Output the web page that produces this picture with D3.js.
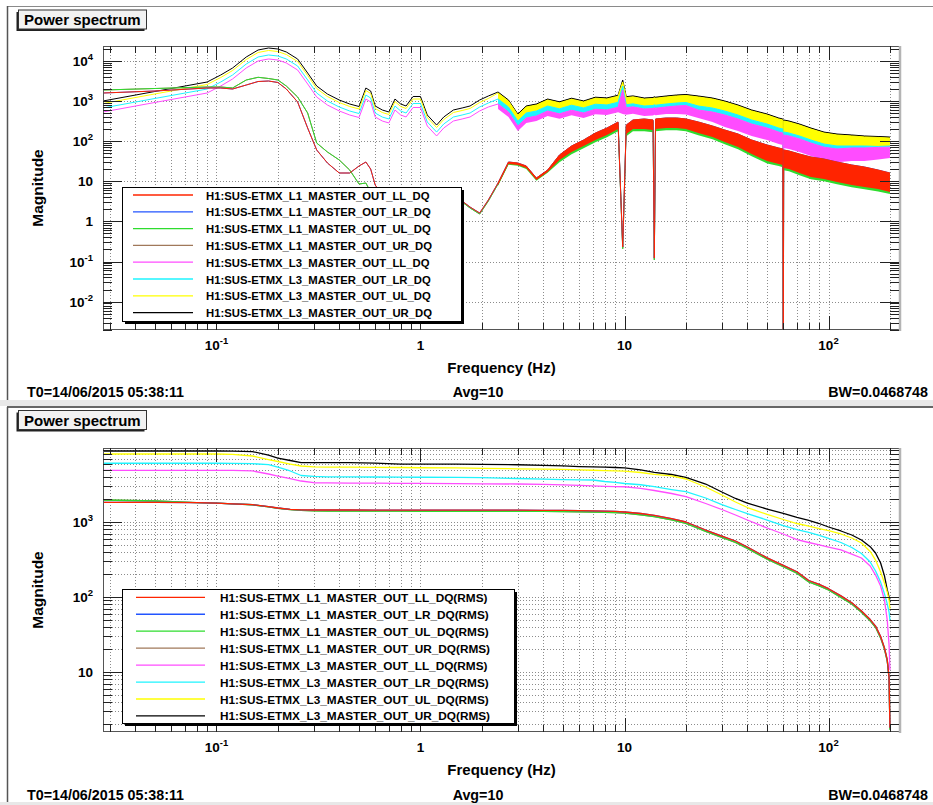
<!DOCTYPE html>
<html>
<head>
<meta charset="utf-8">
<script src="https://cdn.jsdelivr.net/npm/d3@7"></script>
<style>
body { margin: 0; background: #fff; }
svg { display: block; font-family: "Liberation Sans", Arial, Helvetica, sans-serif; font-weight: bold; }
</style>
</head>
<body>
<div id="chart"></div>
<script>
// channel names, in legend order
const channels = [
    "H1:SUS-ETMX_L1_MASTER_OUT_LL_DQ",
    "H1:SUS-ETMX_L1_MASTER_OUT_LR_DQ",
    "H1:SUS-ETMX_L1_MASTER_OUT_UL_DQ",
    "H1:SUS-ETMX_L1_MASTER_OUT_UR_DQ",
    "H1:SUS-ETMX_L3_MASTER_OUT_LL_DQ",
    "H1:SUS-ETMX_L3_MASTER_OUT_LR_DQ",
    "H1:SUS-ETMX_L3_MASTER_OUT_UL_DQ",
    "H1:SUS-ETMX_L3_MASTER_OUT_UR_DQ"
];
const colors = ["#ff2400", "#2255ff", "#2edc2e", "#a0785a", "#ff4cff", "#1ef4ff", "#ffff00", "#000000"];

const xDomain = [0.0278, 224];      // Hz
const yDomainTop = [1.96e-3, 2.366e4];
const yDomainBot = [1.585, 9700];
const bandFrom = 2.4;               // above this the spectra are drawn as noise bands

// ---- top panel: power spectrum (upper edge of each trace) ----
const freqTop = [0.0278, 0.05, 0.09, 0.105, 0.12, 0.14, 0.16, 0.18, 0.2, 0.22,
    0.25, 0.28, 0.31, 0.35, 0.4, 0.45, 0.5, 0.54, 0.57, 0.6,
    0.65, 0.7, 0.75, 0.8, 0.85, 0.92, 1.0, 1.08, 1.2, 1.3,
    1.45, 1.6, 1.75, 1.95, 2.15, 2.4, 2.7, 3.0, 3.3, 3.7,
    4.2, 4.8, 5.5, 6.3, 7.2, 8.2, 9.3, 9.8, 10.2, 11,
    12.5, 13.8, 14.0, 14.2, 16, 18, 20, 23, 27, 31,
    36, 42, 50, 57, 59.7, 60, 60.3, 64, 72, 82,
    95, 110, 130, 150, 175, 200];

const psdL1LL = [1592, 1785, 2123, 2123, 2003, 2520, 3080, 3170, 2910, 2003,
    949, 213, 60.3, 28.6, 16.1, 16.1, 24.1, 30.3, 20.2, 8.07,
    4.55, 3.41, 2.87, 2.56, 2.42, 2.42, 2.56, 2.71, 2.87, 3.05,
    3.22, 3.22, 2.28, 1.62, 3.41, 9.06, 30.3, 28.6, 24.1, 12.1,
    19.1, 45.3, 75.9, 107, 160, 213, 301, 0.23, 253, 338,
    358, 338, 0.122, 358, 379, 379, 358, 301, 239, 190,
    151, 107, 80.4, 67.6, 63.9, 0.0001, 60.3, 56.9, 47.9, 40.3,
    35.9, 30.3, 25.5, 22.7, 19.1, 16.1];
const psdL1LR = [1592, 1785, 2123, 2123, 2003, 2520, 3080, 3170, 2910, 2003,
    949, 213, 60.3, 28.6, 16.1, 16.1, 24.1, 30.3, 20.2, 8.07,
    4.55, 3.41, 2.87, 2.56, 2.42, 2.42, 2.56, 2.71, 2.87, 3.05,
    3.22, 3.22, 2.28, 1.62, 3.41, 9.06, 30.3, 28.6, 24.1, 12.1,
    19.1, 45.3, 75.9, 107, 160, 213, 301, 0.23, 253, 338,
    358, 338, 0.122, 358, 379, 379, 358, 301, 239, 190,
    151, 107, 80.4, 67.6, 63.9, 0.0001, 60.3, 56.9, 47.9, 40.3,
    35.9, 30.3, 25.5, 22.7, 19.1, 16.1];
const psdL1UL = [1890, 2060, 2246, 2246, 2123, 3360, 3922, 3660, 3360, 2380,
    1265, 505, 90.2, 53.8, 34, 19.1, 8.55, 9.06, 5.4, 4.05,
    3.41, 2.87, 2.56, 2.42, 2.28, 2.28, 2.42, 2.56, 2.71, 2.87,
    3.05, 3.05, 2.16, 1.53, 3.22, 8.55, 28.6, 27, 22.7, 11.4,
    18.1, 42, 70, 100, 150, 198, 280, 0.21, 235, 315,
    333, 315, 0.11, 333, 352, 352, 333, 280, 222, 177,
    140, 100, 75, 63, 59, 0.0001, 56, 53, 44.5, 37.5,
    33.4, 28.2, 23.7, 21.1, 17.8, 15];
const psdL1UR = [1890, 2060, 2246, 2246, 2123, 3360, 3922, 3660, 3360, 2380,
    1265, 505, 90.2, 53.8, 34, 19.1, 8.55, 9.06, 5.4, 4.05,
    3.41, 2.87, 2.56, 2.42, 2.28, 2.28, 2.42, 2.56, 2.71, 2.87,
    3.05, 3.05, 2.16, 1.53, 3.22, 8.55, 28.6, 27, 22.7, 11.4,
    18.1, 42, 70, 100, 150, 198, 280, 0.21, 235, 315,
    333, 315, 0.11, 333, 352, 352, 333, 280, 222, 177,
    140, 100, 75, 63, 59, 0.0001, 56, 53, 44.5, 37.5,
    33.4, 28.2, 23.7, 21.1, 17.8, 15];
const psdL3LL = [535, 926, 1591, 2383, 3559, 6693, 10000, 11230, 10590, 8938,
    5958, 2671, 1266, 798, 567, 450, 390, 1128, 950, 402,
    319, 285, 600, 450, 402, 693, 693, 239, 135, 213,
    319, 358, 402, 567, 713, 846, 535, 239, 379, 425,
    566, 482, 592, 507, 628, 602, 703, 1890, 686, 718,
    635, 654, 681, 665, 713, 755, 777, 599, 534, 450,
    358, 268, 213, 169, 160, 1.92, 143, 135, 114, 90,
    71, 64, 68, 68, 70, 71];
const psdL3LR = [673, 1164, 2000, 2997, 4476, 8416, 12580, 14120, 13310, 11240,
    7493, 3358, 1592, 1004, 712, 566, 490, 1418, 1194, 505,
    401, 358, 754, 566, 505, 872, 872, 301, 169, 268,
    401, 450, 505, 712, 896, 1128, 712, 318, 505, 566,
    754, 642, 790, 676, 836, 803, 937, 2380, 815, 853,
    755, 777, 809, 790, 847, 897, 923, 754, 672, 566,
    450, 338, 268, 213, 202, 4.06, 170, 160, 135, 107,
    85, 76, 76, 76, 74, 76];
const psdL3UL = [870, 1510, 2590, 3880, 5790, 10900, 16300, 18300, 17200, 14500,
    9700, 4350, 2060, 1300, 922, 733, 635, 1836, 1546, 654,
    520, 463, 976, 733, 654, 1128, 1128, 390, 219, 347,
    520, 583, 654, 922, 1160, 1593, 1006, 450, 713, 799,
    1065, 907, 1115, 954, 1181, 1134, 1323, 2994, 1219, 1276,
    1128, 1162, 1210, 1181, 1266, 1342, 1380, 1266, 1128, 951,
    756, 567, 450, 358, 338, 6.1, 319, 301, 254, 201,
    160, 143, 135, 128, 124, 120];
const psdL3UR = [1006, 1740, 2990, 4480, 6690, 12580, 18800, 21100, 19900, 16800,
    11200, 5020, 2380, 1500, 1065, 846, 733, 2120, 1785, 755,
    600, 535, 1127, 846, 755, 1303, 1303, 450, 253, 401,
    600, 673, 755, 1065, 1340, 1686, 1065, 476, 755, 846,
    1127, 960, 1180, 1010, 1250, 1200, 1400, 3360, 1290, 1350,
    1194, 1230, 1280, 1250, 1340, 1420, 1460, 1340, 1194, 1006,
    800, 600, 476, 379, 358, 10.8, 338, 319, 269, 213,
    169, 151, 143, 135, 131, 127];

// lower edge of the noise bands, from bandFrom (2.4 Hz) upward
const psdL1LLLow = [8.07, 27, 25.5, 21.5, 10.8, 17, 34, 53.7, 75.8, 107,
    142, 201, 0.23, 151, 201, 202, 190, 0.122, 202, 213,
    213, 202, 160, 127, 95, 72, 48, 32, 27, 25.5,
    0.0001, 21.5, 20.3, 16.1, 12.8, 11.4, 9.6, 8.1, 7.2, 6.4, 5.4];
const psdL1ULLow = [7.7, 25.7, 24.3, 20.4, 10.3, 16.3, 30, 47, 67, 94,
    125, 177, 0.21, 133, 177, 178, 167, 0.11, 178, 187,
    187, 178, 141, 112, 84, 63, 42, 28, 24, 22.4,
    0.0001, 18.9, 17.9, 14.2, 11.3, 10, 8.4, 7.1, 6.3, 5.6, 4.8];
const psdL3LLLow = [636, 401, 179, 285, 319, 425, 362, 445, 381, 471,
    452, 528, 480, 459, 481, 425, 438, 456, 445, 477,
    477, 463, 379, 301, 226, 180, 135, 107, 85, 81,
    1.92, 68, 64, 54, 43, 34, 30, 32, 32, 35, 38];

// ---- bottom panel: RMS ----
const freqBot = [0.0278, 0.05, 0.08, 0.1, 0.12, 0.15, 0.18, 0.2, 0.23, 0.26,
    0.3, 0.35, 0.45, 0.6, 0.8, 1, 1.5, 2, 3, 4,
    5, 6, 7, 8, 9, 10, 12, 14, 17, 20,
    25, 30, 35, 40, 50, 60, 70, 80, 90, 100,
    115, 130, 145, 160, 170, 180, 188, 194, 198, 200];

const rmsL1LL = [1830, 1825, 1810, 1780, 1750, 1700, 1600, 1537, 1476, 1455,
    1445, 1445, 1445, 1444, 1443, 1442, 1440, 1438, 1436, 1432,
    1428, 1420, 1410, 1400, 1385, 1360, 1298, 1228, 1113, 1000,
    782, 650, 558, 464, 333, 264, 217, 166, 147, 129,
    103.5, 84, 65, 50, 41, 29.7, 21, 14.5, 8.5, 1.8];
const rmsL1LR = [1830, 1825, 1810, 1780, 1750, 1700, 1600, 1537, 1476, 1455,
    1445, 1445, 1445, 1444, 1443, 1442, 1440, 1438, 1436, 1432,
    1428, 1420, 1410, 1400, 1385, 1360, 1298, 1228, 1113, 1000,
    782, 650, 558, 464, 333, 264, 217, 166, 147, 129,
    103.5, 84, 65, 50, 41, 29.7, 21, 14.5, 8.5, 1.8];
const rmsL1UL = [1965, 1905, 1815, 1780, 1748, 1698, 1590, 1525, 1460, 1432,
    1405, 1395, 1395, 1394, 1393, 1392, 1390, 1388, 1386, 1382,
    1378, 1370, 1360, 1350, 1335, 1310, 1250, 1180, 1070, 960,
    750, 625, 535, 445, 320, 253, 208, 159, 141, 124,
    99, 80.5, 62.5, 48, 39.4, 28.5, 20.2, 14, 8.2, 1.7];
const rmsL1UR = [1965, 1905, 1815, 1780, 1748, 1698, 1590, 1525, 1460, 1432,
    1405, 1395, 1395, 1394, 1393, 1392, 1390, 1388, 1386, 1382,
    1378, 1370, 1360, 1350, 1335, 1310, 1250, 1180, 1070, 960,
    750, 625, 535, 445, 320, 253, 208, 159, 141, 124,
    99, 80.5, 62.5, 48, 39.4, 28.5, 20.2, 14, 8.2, 1.7];
const rmsL3LL = [4890, 4890, 4890, 4890, 4890, 4800, 4365, 4100, 3800, 3520,
    3340, 3320, 3300, 3290, 3280, 3270, 3250, 3230, 3210, 3170,
    3120, 3070, 3030, 2990, 2960, 2950, 2800, 2630, 2400, 2180,
    1765, 1468, 1240, 1063, 832, 692, 584, 533, 494, 464,
    424, 374, 331, 259, 196, 140, 91, 49, 22.9, 10.6];
const rmsL3LR = [6070, 6070, 6070, 6070, 6050, 6000, 5840, 5410, 4790, 4170,
    4050, 4000, 3990, 3980, 3960, 3950, 3940, 3900, 3800, 3720,
    3680, 3650, 3630, 3470, 3370, 3260, 3140, 2955, 2710, 2540,
    2090, 1710, 1468, 1298, 1063, 898, 794, 725, 661, 603,
    533, 457, 380, 293, 222, 158, 110, 81, 63, 49];
const rmsL3UL = [8070, 8070, 8070, 8070, 8000, 7590, 6810, 6410, 5930, 5580,
    5450, 5400, 5380, 5350, 5330, 5290, 5260, 5200, 5120, 5080,
    5020, 4960, 4900, 4850, 4810, 4780, 4570, 4320, 4110, 3745,
    2930, 2290, 1850, 1560, 1260, 1080, 955, 884, 819, 770,
    692, 612, 525, 405, 311, 215, 154, 117, 92, 70];
const rmsL3UR = [8850, 8850, 8850, 8850, 8800, 8700, 7820, 7130, 6610, 6210,
    6180, 6180, 6180, 6100, 5930, 5920, 5900, 5880, 5800, 5700,
    5600, 5480, 5420, 5380, 5330, 5280, 4940, 4600, 4300, 3945,
    3210, 2510, 2060, 1790, 1490, 1300, 1150, 1050, 955, 858,
    759, 671, 575, 469, 386, 284, 191, 124, 100, 85];

const statusT0 = "T0=14/06/2015 05:38:11";
const statusAvg = "Avg=10";
const statusBW = "BW=0.0468748";

// ------------------------------------------------------------
const width = 933, height = 805;
const svg = d3.select("#chart").append("svg")
    .attr("width", width)
    .attr("height", height)
    .attr("viewBox", [0, 0, width, height]);

svg.append("rect").attr("width", width).attr("height", height).attr("fill", "#fff");

// pad frames
svg.append("line").attr("x1", 7).attr("x2", width).attr("y1", 6.5).attr("y2", 6.5).attr("stroke", "#8a8a8a");
svg.append("line").attr("x1", 7.5).attr("x2", 7.5).attr("y1", 6).attr("y2", 400).attr("stroke", "#555").attr("stroke-width", 1.5);
svg.append("rect").attr("x", 0).attr("y", 400).attr("width", width).attr("height", 6).attr("fill", "#e8e8e8");
svg.append("line").attr("x1", 7).attr("x2", width).attr("y1", 407).attr("y2", 407).attr("stroke", "#333").attr("stroke-width", 1.5);
svg.append("line").attr("x1", 7.5).attr("x2", 7.5).attr("y1", 407).attr("y2", 805).attr("stroke", "#555").attr("stroke-width", 1.5);
svg.append("rect").attr("x", 0).attr("y", 802).attr("width", width).attr("height", 3).attr("fill", "#e8e8e8");

function logTicks(domain) {
    const major = [], minor = [];
    const e0 = Math.floor(Math.log10(domain[0])), e1 = Math.ceil(Math.log10(domain[1]));
    for (let e = e0; e <= e1; e++) {
        for (let k = 1; k < 10; k++) {
            const v = k * Math.pow(10, e);
            if (v < domain[0] || v > domain[1]) continue;
            (k === 1 ? major : minor).push(v);
        }
    }
    return {major, minor};
}

function powLabel(sel, v) {
    const e = Math.round(Math.log10(v));
    if (e === 0) sel.text("1");
    else if (e === 1) sel.text("10");
    else {
        sel.append("tspan").text("10");
        sel.append("tspan").attr("dy", -6).attr("font-size", 9.5).text(e);
    }
}

function drawPanel(p) {
    const left = 103, right = 900;
    const x = d3.scaleLog().domain(xDomain).range([left, right]);
    const y = d3.scaleLog().domain(p.yDomain).range([p.bottom, p.top]);
    const g = svg.append("g");
    const xt = logTicks(xDomain), yt = logTicks(p.yDomain);

    // title box with shadow
    g.append("rect").attr("x", 16.5).attr("y", p.titleY + 2).attr("width", 128).attr("height", 19).attr("fill", "#222");
    g.append("rect").attr("x", 18.5).attr("y", p.titleY).attr("width", 128).attr("height", 19)
        .attr("fill", "#f2f2f2").attr("stroke", "#333");
    g.append("text").attr("x", 24).attr("y", p.titleY + 15).attr("font-size", 15).text("Power spectrum");

    // grid
    const grid = g.append("g").attr("stroke", "#8c8c8c").attr("stroke-dasharray", "1,2").attr("stroke-width", 1);
    grid.selectAll(".gx").data(xt.major.concat(xt.minor)).join("line")
        .attr("x1", d => Math.round(x(d)) + 0.5).attr("x2", d => Math.round(x(d)) + 0.5)
        .attr("y1", p.top).attr("y2", p.bottom);
    grid.selectAll(".gy").data(p.yMinorGrid ? yt.major.concat(yt.minor) : yt.major).join("line")
        .attr("x1", left).attr("x2", right)
        .attr("y1", d => Math.round(y(d)) + 0.5).attr("y2", d => Math.round(y(d)) + 0.5);

    // traces, last channel first so LL L1 ends on top
    const clipId = "clip" + p.top;
    g.append("clipPath").attr("id", clipId).append("rect")
        .attr("x", left).attr("y", p.top).attr("width", right - left).attr("height", p.bottom - p.top);
    const traces = g.append("g").attr("clip-path", `url(#${clipId})`);
    const bandIdx = p.freq.findIndex(f => f >= bandFrom);
    for (let c = p.series.length - 1; c >= 0; c--) {
        const vals = p.series[c];
        const low = p.bands ? p.bands[c] : null;
        if (low) {
            const idx = d3.range(bandIdx, p.freq.length);
            traces.append("path")
                .attr("fill", colors[c])
                .attr("d", d3.area()
                    .x(i => x(p.freq[i]))
                    .y0(i => y(low[i - bandIdx]))
                    .y1(i => y(vals[i]))(idx));
        }
        traces.append("path")
            .attr("fill", "none")
            .attr("stroke", colors[c])
            .attr("stroke-width", p.lineWidth)
            .attr("stroke-linejoin", "round")
            .attr("d", d3.line().x(i => x(p.freq[i])).y(i => y(vals[i]))(d3.range(p.freq.length)));
    }

    // frame
    g.append("rect").attr("x", left + 0.5).attr("y", p.top + 0.5)
        .attr("width", right - left - 1).attr("height", p.bottom - p.top - 1)
        .attr("fill", "none").attr("stroke", "#555");
    g.append("line").attr("x1", right).attr("x2", right).attr("y1", p.top).attr("y2", p.bottom + 1)
        .attr("stroke", "#b4b4b4").attr("stroke-width", 2.5);

    // ticks
    const ticks = g.append("g").attr("stroke", "#222").attr("stroke-width", 1);
    const xAll = xt.major.map(d => [d, 14]).concat(xt.minor.map(d => [d, 7]));
    ticks.selectAll(".tb").data(xAll).join("line")
        .attr("x1", d => Math.round(x(d[0])) + 0.5).attr("x2", d => Math.round(x(d[0])) + 0.5)
        .attr("y1", p.bottom).attr("y2", d => p.bottom - d[1]);
    ticks.selectAll(".tt").data(xAll).join("line")
        .attr("x1", d => Math.round(x(d[0])) + 0.5).attr("x2", d => Math.round(x(d[0])) + 0.5)
        .attr("y1", p.top).attr("y2", d => p.top + d[1]);
    const yAll = yt.major.map(d => [d, 19]).concat(yt.minor.map(d => [d, 9]));
    ticks.selectAll(".tl").data(yAll).join("line")
        .attr("y1", d => Math.round(y(d[0])) + 0.5).attr("y2", d => Math.round(y(d[0])) + 0.5)
        .attr("x1", left).attr("x2", d => left + d[1]);
    ticks.selectAll(".tr").data(yAll).join("line")
        .attr("y1", d => Math.round(y(d[0])) + 0.5).attr("y2", d => Math.round(y(d[0])) + 0.5)
        .attr("x1", right - 1).attr("x2", d => right - 1 - d[1]);

    // tick labels
    g.selectAll(".xl").data(xt.major).join("text")
        .attr("x", d => x(d)).attr("y", p.bottom + 20)
        .attr("text-anchor", "middle").attr("font-size", 13.5)
        .each(function (d) { powLabel(d3.select(this), d); });
    g.selectAll(".yl").data(yt.major).join("text")
        .attr("x", 93).attr("y", d => y(d) + 5)
        .attr("text-anchor", "end").attr("font-size", 13.5)
        .each(function (d) { powLabel(d3.select(this), d); });

    // axis titles
    g.append("text").attr("x", (left + right) / 2).attr("y", p.bottom + 43)
        .attr("text-anchor", "middle").attr("font-size", 15).text("Frequency (Hz)");
    g.append("text").attr("transform", `translate(43,${(p.top + p.bottom) / 2}) rotate(-90)`)
        .attr("text-anchor", "middle").attr("font-size", 15.5).text("Magnitude");

    // status line
    g.append("text").attr("x", 27).attr("y", p.statusY).attr("font-size", 14.3).text(statusT0);
    g.append("text").attr("x", 478).attr("y", p.statusY).attr("text-anchor", "middle").attr("font-size", 14.3).text(statusAvg);
    g.append("text").attr("x", 928).attr("y", p.statusY).attr("text-anchor", "end").attr("font-size", 14.3).text(statusBW);

    // legend
    const L = p.legend;
    g.append("rect").attr("x", L.x + 3).attr("y", L.y + 3).attr("width", L.w).attr("height", L.h).attr("fill", "#000");
    g.append("rect").attr("x", L.x + 0.5).attr("y", L.y + 0.5).attr("width", L.w).attr("height", L.h)
        .attr("fill", "#fff").attr("stroke", "#000");
    const rows = g.selectAll(".lg").data(channels).join("g")
        .attr("transform", (d, i) => `translate(0,${L.first + i * L.step})`);
    rows.append("line").attr("x1", L.lineX[0]).attr("x2", L.lineX[1])
        .attr("stroke", (d, i) => colors[i]).attr("stroke-width", 1.3);
    rows.append("text").attr("x", L.textX).attr("y", 4.5).attr("font-size", L.fontSize)
        .text(d => d + L.suffix);
}

const bandStart = freqTop.findIndex(f => f >= bandFrom);

drawPanel({
    top: 46, bottom: 330, yDomain: yDomainTop, yMinorGrid: false,
    titleY: 10, statusY: 397, lineWidth: 1,
    freq: freqTop,
    series: [psdL1LL, psdL1LR, psdL1UL, psdL1UR, psdL3LL, psdL3LR, psdL3UL, psdL3UR],
    // each L3 band reaches down to the next trace, which is painted over it
    bands: [psdL1LLLow, null, psdL1ULLow, null, psdL3LLLow,
        psdL3LL.slice(bandStart), psdL3LR.slice(bandStart), psdL3UL.slice(bandStart)],
    legend: {x: 122, y: 187, w: 339, h: 134, first: 195, step: 16.8,
        lineX: [133, 193], textX: 206, fontSize: 11.3, suffix: ""}
});

drawPanel({
    top: 448, bottom: 732, yDomain: yDomainBot, yMinorGrid: true,
    titleY: 410.5, statusY: 800, lineWidth: 1.3,
    freq: freqBot,
    series: [rmsL1LL, rmsL1LR, rmsL1UL, rmsL1UR, rmsL3LL, rmsL3LR, rmsL3UL, rmsL3UR],
    bands: null,
    legend: {x: 122, y: 589, w: 392, h: 134, first: 597.3, step: 16.95,
        lineX: [136, 205], textX: 220, fontSize: 11.8, suffix: "(RMS)"}
});
</script>
</body>
</html>
